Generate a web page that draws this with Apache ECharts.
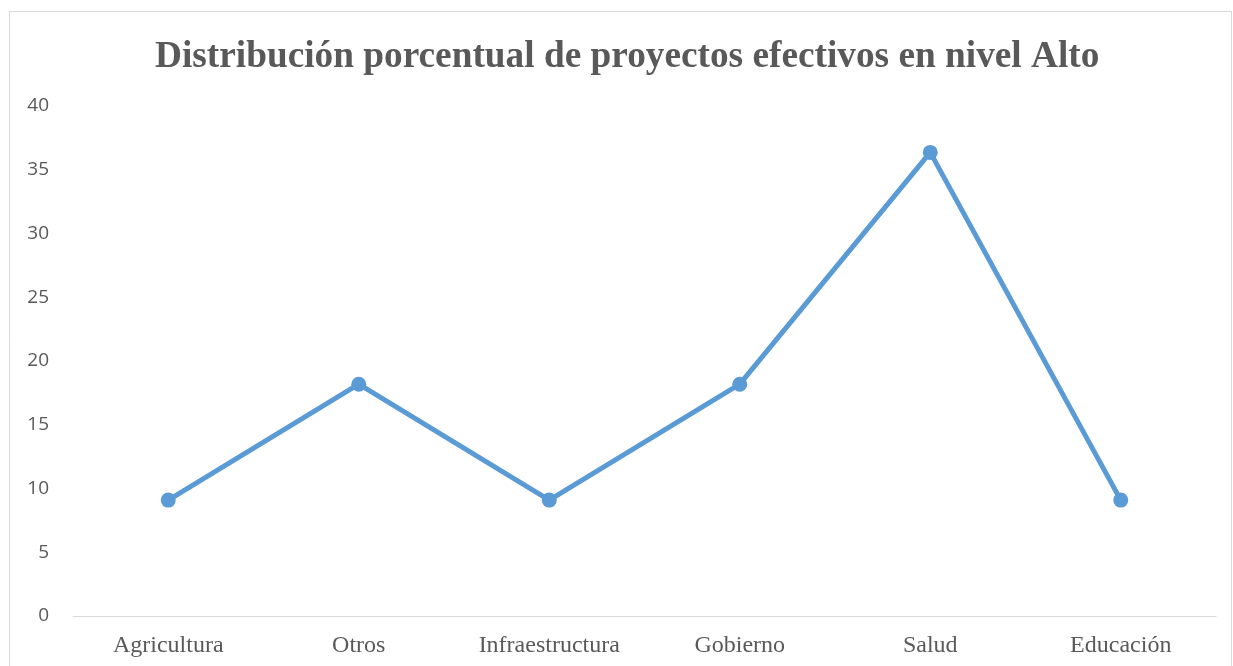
<!DOCTYPE html>
<html><head><meta charset="utf-8">
<script src="https://cdn.jsdelivr.net/npm/echarts@6/dist/echarts.min.js"></script>
<style>html,body{margin:0;padding:0;background:#fff;}#c{width:1233px;height:666px;}</style>
</head><body><div id="c"></div>
<script>
const categories = ['Agricultura','Otros','Infraestructura','Gobierno','Salud','Educación'];
const values = [9.09, 18.18, 9.09, 18.18, 36.36, 9.09];
const titleText = 'Distribución porcentual de proyectos efectivos en nivel Alto';
const chart = echarts.init(document.getElementById('c'));
chart.setOption({
  animation: false,
  backgroundColor: '#fff',
  graphic: [{type:'rect', shape:{x:9.5,y:11.5,width:1222,height:700}, style:{fill:'none', stroke:'#d9d9d9', lineWidth:1}, silent:true}],
  title: {text: titleText, left: 150, top: 34,
    textStyle: {fontFamily: 'Liberation Serif', fontWeight: 'bold', fontSize: 37.3, color: '#595959'}},
  grid: {left: 73, right: 17, top: 106, bottom: 50, containLabel: false},
  xAxis: {type: 'category', data: categories, boundaryGap: true,
    axisLine: {lineStyle: {color: '#d9d9d9', width: 1}}, axisTick: {show: false},
    axisLabel: {fontFamily: 'Liberation Serif', fontSize: 24, color: '#595959', margin: 18}},
  yAxis: {type: 'value', min: 0, max: 40, interval: 5,
    splitLine: {show: false}, axisLine: {show: false}, axisTick: {show: false},
    axisLabel: {fontFamily: 'Open Sans', fontSize: 19, color: '#595959', margin: 24, padding: [4,0,0,0]}},
  series: [{type: 'line', data: values, symbol: 'circle', symbolSize: 15,
    lineStyle: {color: '#5B9BD5', width: 5}, itemStyle: {color: '#5B9BD5'}}]
});
</script></body></html>
